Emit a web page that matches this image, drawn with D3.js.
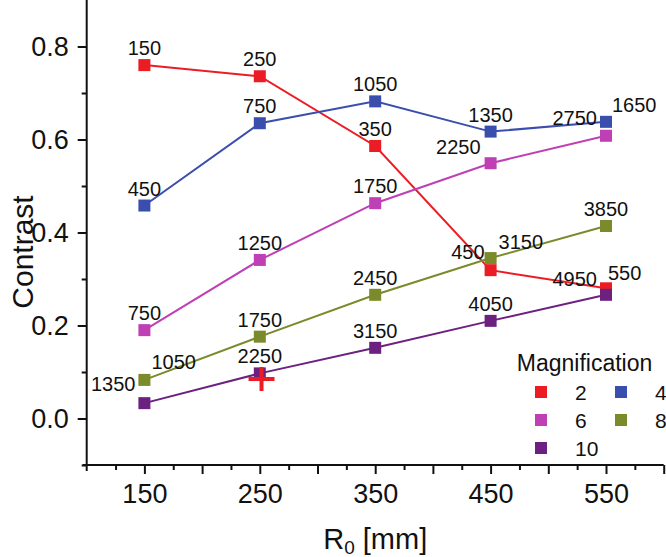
<!DOCTYPE html>
<html><head><meta charset="utf-8">
<script src="https://cdn.jsdelivr.net/npm/d3@7"></script>
<style>
html,body{margin:0;padding:0;background:#fff;}
text{font-family:"Liberation Sans",Arial,sans-serif;fill:#111;}
</style></head>
<body><svg id="c" width="666" height="557"></svg>
<script>
const xValues = [150, 250, 350, 450, 550];
const seriesNames = ["2", "4", "6", "8", "10"];
const contrast2  = [0.760, 0.736, 0.586, 0.319, 0.280];
const contrast4  = [0.458, 0.635, 0.682, 0.617, 0.638];
const contrast6  = [0.190, 0.341, 0.463, 0.549, 0.608];
const contrast8  = [0.083, 0.176, 0.266, 0.345, 0.414];
const contrast10 = [0.033, 0.097, 0.152, 0.210, 0.266];
const labels2  = ["150", "250", "350", "450", "550"];
const labels4  = ["450", "750", "1050", "1350", "1650"];
const labels6  = ["750", "1250", "1750", "2250", "2750"];
const labels8  = ["1050", "1750", "2450", "3150", "3850"];
const labels10 = ["1350", "2250", "3150", "4050", "4950"];
const xTickLabels = [150, 250, 350, 450, 550];
const yTickLabels = [0.0, 0.2, 0.4, 0.6, 0.8];
const markerPoint = {x: 251.5, y: 0.085};

const colors = ["#ec1c24", "#3a4fad", "#bf3fb5", "#7b8a2a", "#6c2181"];
// label placement per point: [anchor, dx, dy]
const A = ["middle", 0, -10];
const placements = [
  [A, A, A, ["end", -6, -11], ["start", 2, -8]],
  [A, A, A, A, ["start", 6, -10]],
  [A, A, A, ["end", -10, -9], ["end", -9, -11]],
  [["start", 7, -11], A, A, ["start", 8, -9], A],
  [["end", -9, -12], A, A, A, ["end", -9, -9]]
];

const series = [contrast2, contrast4, contrast6, contrast8, contrast10].map((vals, i) => ({
  name: seriesNames[i],
  color: colors[i],
  labels: [labels2, labels4, labels6, labels8, labels10][i],
  points: xValues.map((xv, j) => ({x: xv, y: vals[j]}))
}));

const svg = d3.select("#c");
const x = d3.scaleLinear().domain([100, 600]).range([86.7, 663.7]);
const y = d3.scaleLinear().domain([-0.1, 0.9]).range([465, 0]);

const font = "'Liberation Sans',Arial,sans-serif";
// x axis ticks
const gx = svg.append("g").attr("transform", `translate(0,${y(-0.1)})`);
gx.call(d3.axisBottom(x).tickValues(d3.range(125, 601, 50)).tickSize(5).tickFormat(""));
gx.select(".domain").remove();
const gx2 = svg.append("g").attr("transform", `translate(0,${y(-0.1)})`);
gx2.call(d3.axisBottom(x).tickValues(d3.range(150, 601, 50)).tickSize(9).tickPadding(3)
  .tickFormat(d => xTickLabels.includes(d) ? d : ""));
gx2.select(".domain").remove();
gx2.selectAll("text").attr("font-size", 27).attr("dy", "0.95em").style("font-family", font).attr("fill", "#111");

// y axis ticks
const gy = svg.append("g").attr("transform", `translate(${x(100)},0)`);
gy.call(d3.axisLeft(y).tickValues([-0.1, 0.1, 0.3, 0.5, 0.7]).tickSize(5).tickFormat(""));
gy.select(".domain").remove();
const gy2 = svg.append("g").attr("transform", `translate(${x(100)},0)`);
gy2.call(d3.axisLeft(y).tickValues(yTickLabels).tickSize(9).tickPadding(9).tickFormat(d3.format(".1f")));
gy2.select(".domain").remove();
gy2.selectAll("text").attr("font-size", 27).style("font-family", font).attr("fill", "#111");

svg.selectAll(".tick line").attr("stroke", "#111").attr("stroke-width", 2);
svg.append("line").attr("x1", x(100) - 4).attr("x2", x(600)).attr("y1", y(-0.1)).attr("y2", y(-0.1))
  .attr("stroke", "#111").attr("stroke-width", 2);
svg.append("line").attr("x1", x(100)).attr("x2", x(100)).attr("y1", y(0.9)).attr("y2", y(-0.1) + 6)
  .attr("stroke", "#111").attr("stroke-width", 2);

// axis titles
svg.append("text").attr("transform", `translate(33,252) rotate(-90)`)
  .attr("text-anchor", "middle").attr("font-size", 30).text("Contrast");
const xt = svg.append("text").attr("x", x(350)).attr("y", 549).attr("text-anchor", "middle").attr("font-size", 29);
xt.append("tspan").text("R");
xt.append("tspan").attr("font-size", 19).attr("dy", 5).text("0");
xt.append("tspan").attr("dy", -5).text("  [mm]");

// lines & markers
const line = d3.line().x(d => x(d.x)).y(d => y(d.y));
series.forEach(s => {
  svg.append("path").datum(s.points).attr("d", line).attr("fill", "none")
    .attr("stroke", s.color).attr("stroke-width", 2);
});
series.forEach(s => {
  svg.selectAll(null).data(s.points).enter().append("rect")
    .attr("x", d => x(d.x) - 6).attr("y", d => y(d.y) - 6)
    .attr("width", 12).attr("height", 12).attr("fill", s.color);
});
series.forEach((s, i) => {
  svg.selectAll(null).data(s.points).enter().append("text")
    .attr("x", (d, j) => x(d.x) + placements[i][j][1])
    .attr("y", (d, j) => y(d.y) + placements[i][j][2])
    .attr("text-anchor", (d, j) => placements[i][j][0])
    .attr("font-size", 20)
    .text((d, j) => s.labels[j]);
});

// red plus marker
const px = x(markerPoint.x), py = y(markerPoint.y);
svg.append("line").attr("x1", px - 13).attr("x2", px + 13).attr("y1", py).attr("y2", py)
  .attr("stroke", "#ec1c24").attr("stroke-width", 4);
svg.append("line").attr("x1", px).attr("x2", px).attr("y1", py - 12).attr("y2", py + 12)
  .attr("stroke", "#ec1c24").attr("stroke-width", 4);

// legend
const leg = svg.append("g");
leg.append("text").attr("x", 584.5).attr("y", 371).attr("text-anchor", "middle").attr("font-size", 23).text("Magnification");
const legPos = [[541, 392], [621, 392], [541, 420], [621, 420], [541, 448]];
series.forEach((s, i) => {
  const [lx, ly] = legPos[i];
  leg.append("rect").attr("x", lx - 6).attr("y", ly - 6).attr("width", 12).attr("height", 12).attr("fill", s.color);
  leg.append("text").attr("x", lx + 34).attr("y", ly + 8).attr("font-size", 21).text(s.name);
});
</script></body></html>
